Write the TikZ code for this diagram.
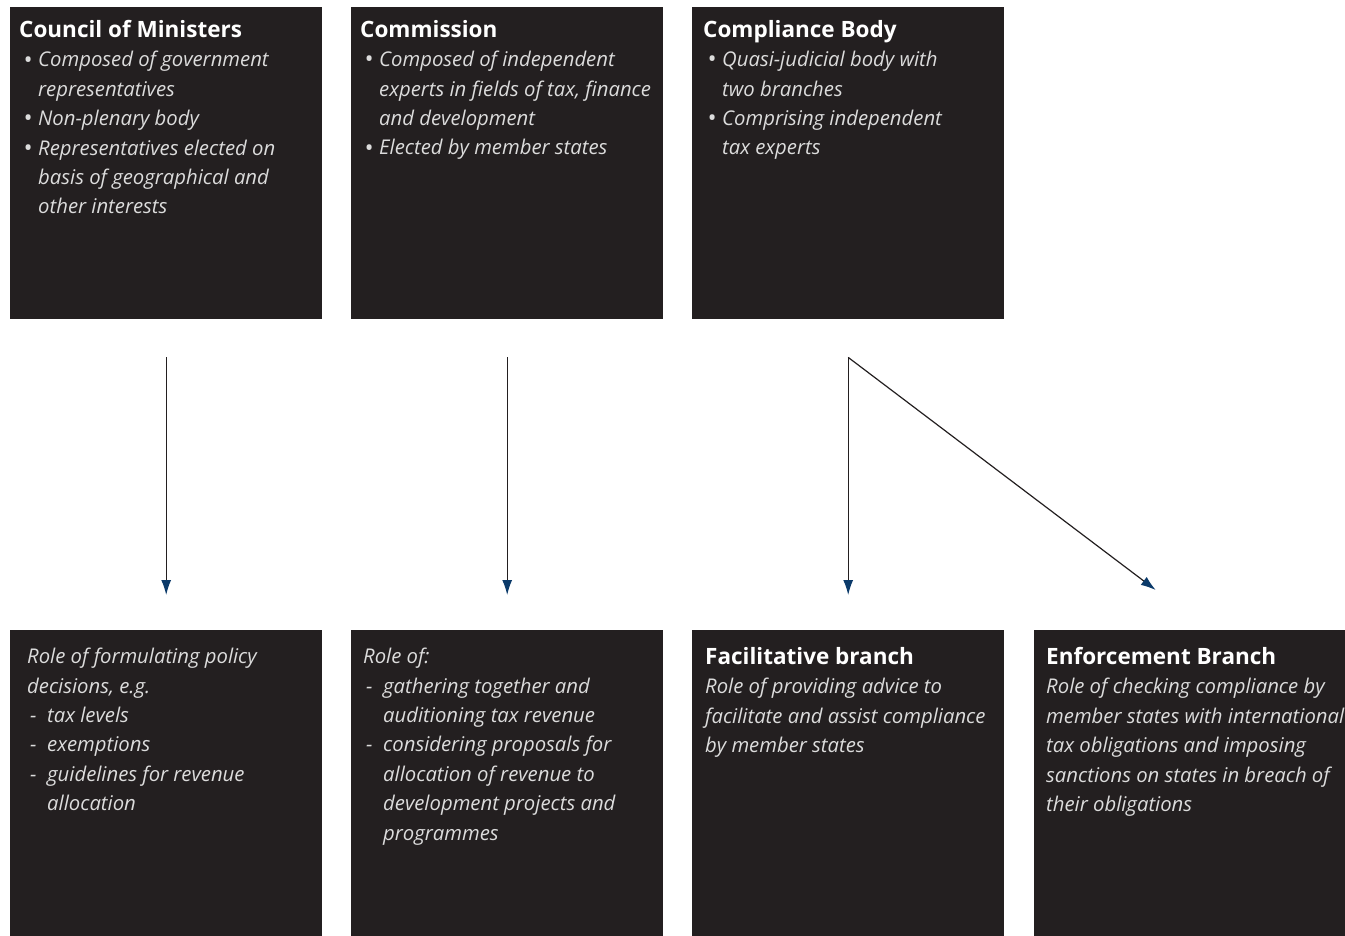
\documentclass[tikz,border=0pt]{standalone}
\usepackage{fontspec}
\setmainfont{Open Sans}
\usetikzlibrary{arrows.meta}
\definecolor{boxc}{HTML}{231F20}
\definecolor{bodyc}{HTML}{DCDCDC}
\definecolor{navy}{HTML}{0B3A6A}
\definecolor{linec}{HTML}{231F20}
\newcommand\ttl[1]{{\color{white}\upshape\bfseries\fontsize{22.5}{29.4}\selectfont #1}}
\newcommand\bulit[1]{\hspace*{4pt}\makebox[15pt][l]{\raisebox{-1.3pt}{\scalebox{1.2}{\textbullet}}}#1}
\newcommand\contb[1]{\hspace*{19pt}#1}
\newcommand\dashit[1]{\hspace*{3pt}\makebox[17pt][l]{-}#1}
\newcommand\contd[1]{\hspace*{20pt}#1}
\begin{document}
\begin{tikzpicture}[x=1pt,y=-1pt,
  box/.style={fill=boxc,draw=none,inner sep=0pt,anchor=north west,minimum width=312pt,minimum height=312pt},
  txt/.style={text=bodyc,align=left,inner sep=0pt,anchor=north west,font=\fontsize{20.3}{29.4}\selectfont\itshape},
  arr/.style={draw=linec,line width=1.2pt,-{Latex[color=navy,length=15pt,width=10pt]}}]
\useasboundingbox (0,0) rectangle (1345,936);
% top row
\node[box] (cm) at (10,7) {};
\node[box] (co) at (351,7) {};
\node[box] (cb) at (692,7) {};
% bottom row
\node[box,minimum height=306pt] (rp) at (10,630) {};
\node[box,minimum height=306pt] (ra) at (351,630) {};
\node[box,minimum height=306pt] (fb) at (692,630) {};
\node[box,minimum height=306pt,minimum width=311pt] (eb) at (1034,630) {};
% texts
\node[txt] (cmt) at (19,20) {\ttl{Council of Ministers}\\
\bulit{Composed of government}\\
\contb{representatives}\\
\bulit{Non-plenary body}\\
\bulit{Representatives elected on}\\
\contb{basis of geographical and}\\
\contb{other interests}};
\node[txt] (cot) at (360,20) {\ttl{Commission}\\
\bulit{Composed of independent}\\
\contb{experts in fields of tax, finance}\\
\contb{and development}\\
\bulit{Elected by member states}};
\node[txt] (cbt) at (703,20) {\ttl{Compliance Body}\\
\bulit{Quasi-judicial body with}\\
\contb{two branches}\\
\bulit{Comprising independent}\\
\contb{tax experts}};
\node[txt] (rpt) at (27,648) {Role of formulating policy\\
decisions, e.g.\\
\dashit{tax levels}\\
\dashit{exemptions}\\
\dashit{guidelines for revenue}\\
\contd{allocation}};
\node[txt] (rat) at (363,648) {Role of:\\
\dashit{gathering together and}\\
\contd{auditioning tax revenue}\\
\dashit{considering proposals for}\\
\contd{allocation of revenue to}\\
\contd{development projects and}\\
\contd{programmes}};
\node[txt] (fbt) at (705,647) {\ttl{Facilitative branch}\\
Role of providing advice to\\
facilitate and assist compliance\\
by member states};
\node[txt] (ebt) at (1046,647) {\ttl{Enforcement Branch}\\
Role of checking compliance by\\
member states with international\\
tax obligations and imposing\\
sanctions on states in breach of\\
their obligations};
% arrows
\draw[arr] ([yshift=-38pt]cm.south) -- ([yshift=35pt]rp.north);
\draw[arr] ([yshift=-38pt]co.south) -- ([yshift=35pt]ra.north);
\draw[arr] ([yshift=-38pt]cb.south) -- ([yshift=35pt]fb.north);
\draw[arr] ([yshift=-38pt]cb.south) -- ([xshift=-34pt,yshift=40pt]eb.north);
\end{tikzpicture}
\end{document}
